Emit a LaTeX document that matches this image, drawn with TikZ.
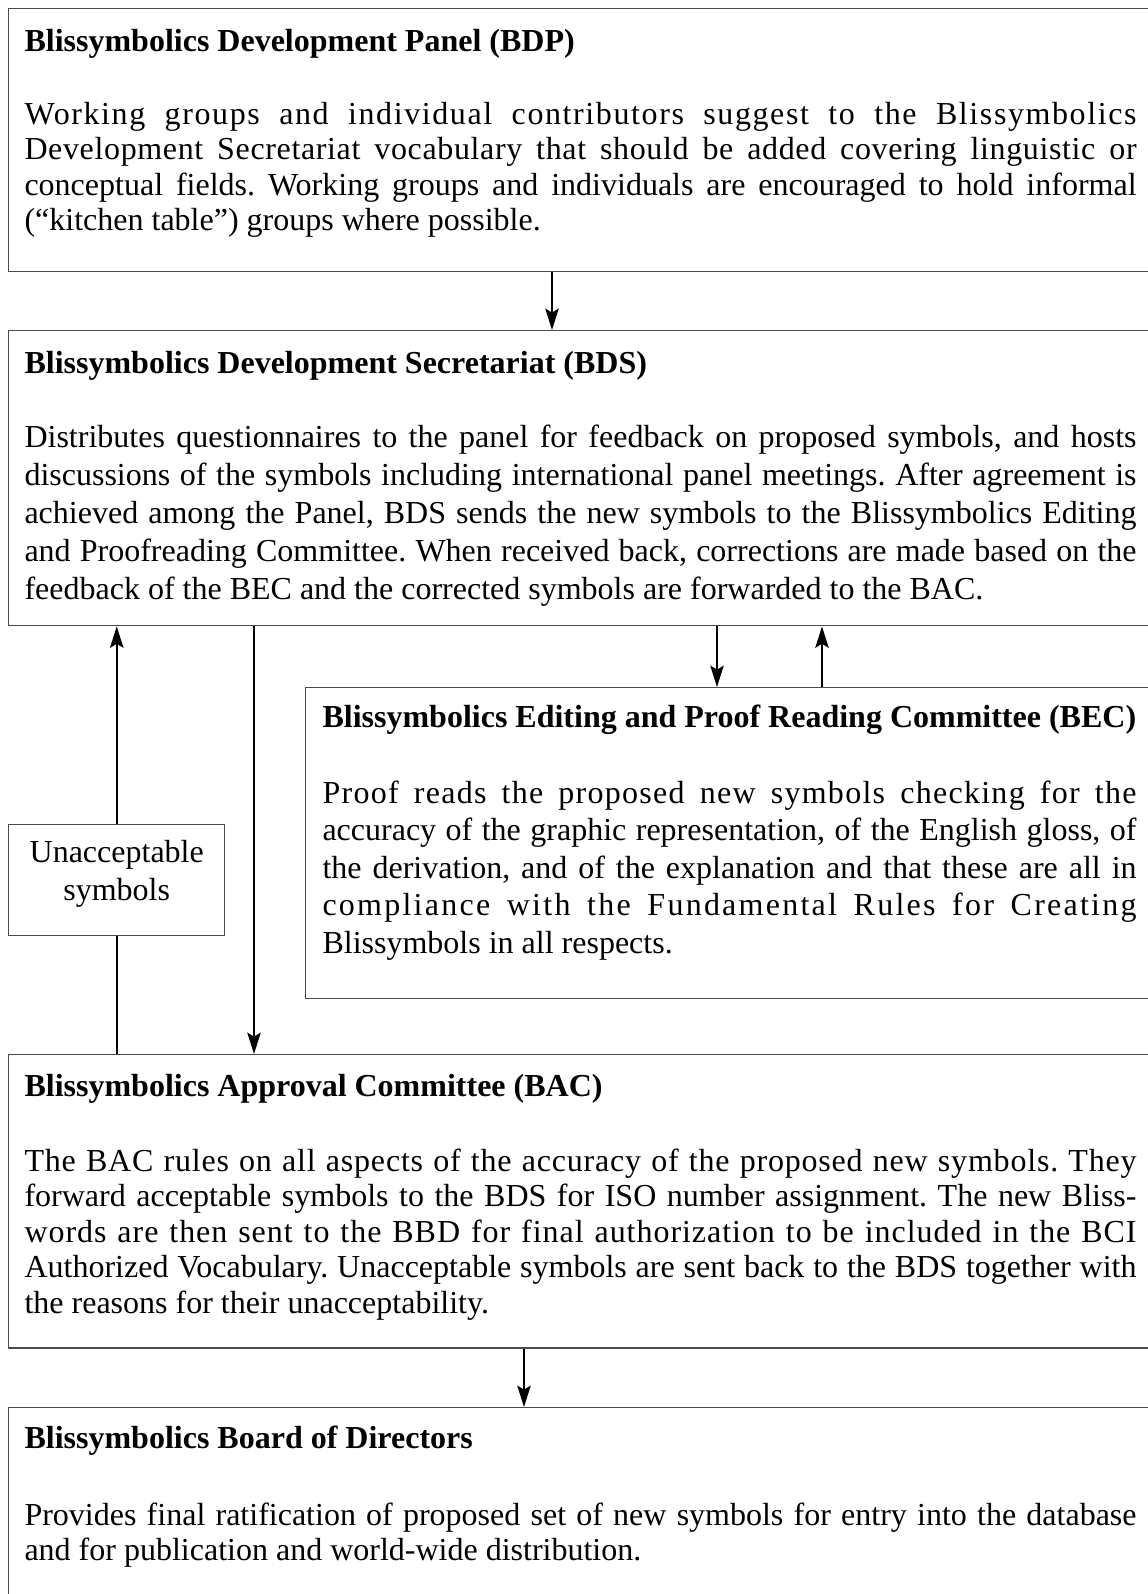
\documentclass[tikz,border=0pt]{standalone}
\usepackage{fontspec}
\setmainfont{Liberation Serif}
\usetikzlibrary{arrows.meta}
\tolerance=10000
\hbadness=10000
\hyphenpenalty=10000
\frenchspacing
\spaceskip=3pt plus 3pt minus 1pt
% letter spaced line, as the justified lines of the original are
\newcommand\lsp[2]{{\addfontfeature{LetterSpace=#1}#2}}

\begin{document}
\begin{tikzpicture}[
  x=0.375pt, y=0.375pt,
  panel/.style={rectangle, draw=black!70, line width=0.55pt, anchor=north west,
                inner sep=0pt, minimum width=447pt},
  head/.style={anchor=base west, inner sep=0pt, font=\fontsize{12}{14}\selectfont\bfseries},
  body/.style={anchor=base west, inner sep=0pt, text width=417pt, align=justify,
               font=\fontsize{12}{13.35}\selectfont},
  arrow/.style={-{Stealth[length=8pt, width=5pt, inset=1.5pt]}, line width=0.9pt}
]
  \useasboundingbox (0,0) rectangle (1148,-1594);
  \clip (0,0) rectangle (1148,-1594);

  % boxes
  \node[panel, minimum height=98.6pt]  (bdp)   at (8,-8) {};
  \node[panel, minimum height=110.6pt] (bds)   at (8,-330) {};
  \node[panel, minimum height=116.6pt, minimum width=330pt] (bec) at (305,-687) {};
  \node[panel, minimum width=81pt, minimum height=41.6pt] (unacc) at (8,-824) {};
  \node[panel, minimum height=109.9pt] (bac)   at (8,-1054) {};
  \node[panel, minimum height=97.5pt]  (board) at (8,-1407) {};

  % titles and texts
  \node[head] (bdphead) at ([shift={(16,-43)}]bdp.north west) {Blissymbolics Development Panel (BDP)};
  \node[body] (bdpbody) at ([shift={(16,-116)}]bdp.north west) {\lsp{5}{Working groups and individual contributors suggest to the Blissymbolics}\linebreak
    \lsp{2}{Development Secretariat vocabulary that should be added covering linguistic or}\linebreak
    conceptual fields. Working groups and individuals are encouraged to hold informal\linebreak
    (“kitchen table”) groups where possible.};

  \node[head] (bdshead) at ([shift={(16,-43)}]bds.north west) {Blissymbolics Development Secretariat (BDS)};
  \node[body, font=\fontsize{12}{14.25}\selectfont] (bdsbody) at ([shift={(16,-117)}]bds.north west) {Distributes questionnaires to the panel for feedback on proposed symbols, and hosts\linebreak
    discussions of the symbols including international panel meetings. After agreement is\linebreak
    achieved among the Panel, BDS sends the new symbols to the Blissymbolics Editing\linebreak
    and Proofreading Committee. When received back, corrections are made based on the\linebreak
    feedback of the BEC and the corrected symbols are forwarded to the BAC.};

  \node[head] (bechead) at ([shift={(17,-40)}]bec.north west) {Blissymbolics Editing and Proof Reading Committee (BEC)};
  \node[body, text width=305.25pt, font=\fontsize{12}{14.1}\selectfont] (becbody) at ([shift={(17,-116)}]bec.north west) {\lsp{4}{Proof reads the proposed new symbols checking for the}\linebreak
    accuracy of the graphic representation, of the English gloss, of\linebreak
    the derivation, and of the explanation and that these are all in\linebreak
    \lsp{7}{compliance with the Fundamental Rules for Creating}\linebreak
    Blissymbols in all respects.};

  \node[panel, draw=none, anchor=center, align=center, font=\fontsize{12}{14.3}\selectfont]
    (unacclabel) at ([shift={(0,6)}]unacc.center) {Unacceptable\\symbols};

  \node[head] (bachead) at ([shift={(16,-42)}]bac.north west) {Blissymbolics Approval Committee (BAC)};
  \node[body] (bacbody) at ([shift={(16,-117)}]bac.north west) {\lsp{2.5}{The BAC rules on all aspects of the accuracy of the proposed new symbols. They}\linebreak
    forward acceptable symbols to the BDS for ISO number assignment. The new Bliss-\linebreak
    \lsp{3}{words are then sent to the BBD for final authorization to be included in the BCI}\linebreak
    Authorized Vocabulary. Unacceptable symbols are sent back to the BDS together with\linebreak
    the reasons for their unacceptability.};

  \node[head] (boardhead) at ([shift={(16,-41)}]board.north west) {Blissymbolics Board of Directors};
  \node[body] (boardbody) at ([shift={(16,-118)}]board.north west) {Provides final ratification of proposed set of new symbols for entry into the database\linebreak
    and for publication and world-wide distribution.};

  % connectors
  \draw[arrow] ([shift={(544,0)}]bdp.south west) -- ([shift={(544,0)}]bds.north west);
  \draw[arrow] ([shift={(709,0)}]bds.south west) -- ([shift={(412,0)}]bec.north west);
  \draw[arrow] ([shift={(517,0)}]bec.north west) -- ([shift={(814,0)}]bds.south west);
  \draw[arrow] ([shift={(246,0)}]bds.south west) -- ([shift={(246,0)}]bac.north west);
  \draw[line width=0.9pt] (unacc.south |- bac.north) -- (unacc.south);
  \draw[arrow] (unacc.north) -- (unacc.north |- bds.south);
  \draw[arrow] ([shift={(516,0)}]bac.south west) -- ([shift={(516,0)}]board.north west);
\end{tikzpicture}
\end{document}
